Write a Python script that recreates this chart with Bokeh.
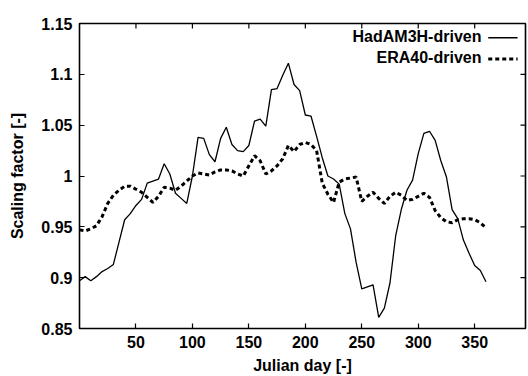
import math
from bokeh.plotting import figure
from bokeh.models import Range1d, FixedTicker, NumeralTickFormatter, Label, Arrow
from bokeh.embed import file_html
from bokeh.resources import INLINE

# ---- data ----
days = list(range(0, 365, 5))

hadam3h = [
    0.897, 0.901, 0.897, 0.901, 0.906, 0.909, 0.913, 0.935, 0.957, 0.963,
    0.971, 0.977, 0.993, 0.995, 0.997, 1.012, 1.002, 0.983, 0.978, 0.973,
    1.000, 1.038, 1.037, 1.021, 1.014, 1.037, 1.048, 1.031, 1.025, 1.024,
    1.030, 1.054, 1.056, 1.049, 1.085, 1.086, 1.099, 1.111, 1.090, 1.084,
    1.060, 1.059, 1.039, 1.018, 1.000, 0.997, 0.992, 0.963, 0.948, 0.915,
    0.889, 0.891, 0.893, 0.861, 0.870, 0.895, 0.941, 0.967, 0.986, 0.996,
    1.022, 1.042, 1.044, 1.035, 1.015, 0.999, 0.967, 0.958, 0.937, 0.924,
    0.912, 0.907, 0.896,
]

era40 = [
    0.947, 0.946, 0.948, 0.951, 0.960, 0.973, 0.981, 0.986, 0.990, 0.990,
    0.987, 0.984, 0.979, 0.974, 0.980, 0.989, 0.988, 0.986, 0.990, 0.995,
    1.000, 1.003, 1.002, 1.001, 1.004, 1.006, 1.006, 1.005, 1.002, 1.000,
    1.010, 1.020, 1.015, 1.002, 1.005, 1.010, 1.017, 1.030, 1.024, 1.031,
    1.033, 1.031, 1.025, 0.993, 0.982, 0.974, 0.994, 0.997, 0.998, 0.999,
    0.975, 0.980, 0.984, 0.978, 0.973, 0.980, 0.984, 0.981, 0.976, 0.977,
    0.980, 0.983, 0.979, 0.966, 0.959, 0.955, 0.954, 0.957, 0.958, 0.958,
    0.957, 0.954, 0.949,
]

x_ticks = [50, 100, 150, 200, 250, 300, 350]
y_ticks = [0.85, 0.9, 0.95, 1.0, 1.05, 1.1, 1.15]
series_names = ["HadAM3H-driven", "ERA40-driven"]

FONT = "Liberation Sans"
X0, X1, Y0, Y1 = 0, 395, 0.85, 1.15

p = figure(width=528, height=376, output_backend="svg", toolbar_location=None,
           x_range=Range1d(X0, X1), y_range=Range1d(Y0, Y1),
           min_border_left=79, min_border_right=3, min_border_top=23,
           min_border_bottom=42, background_fill_color="white",
           border_fill_color="white")
p.xgrid.visible = False
p.ygrid.visible = False
p.outline_line_color = "black"
p.outline_line_width = 1.6

for ax, ticks in ((p.xaxis[0], x_ticks), (p.yaxis[0], y_ticks)):
    ax.ticker = FixedTicker(ticks=ticks)
    ax.axis_line_color = None
    ax.major_tick_in = 5
    ax.major_tick_out = 0
    ax.major_tick_line_color = "black"
    ax.major_tick_line_width = 1.2
    ax.minor_tick_line_color = None
    ax.major_label_text_font = FONT
    ax.major_label_text_font_style = "bold"
    ax.major_label_text_font_size = "16px"
    ax.major_label_text_color = "black"
    ax.axis_label_text_font = FONT
    ax.axis_label_text_font_style = "bold"
    ax.axis_label_text_font_size = "16px"
    ax.axis_label_text_color = "black"
    ax.major_label_standoff = 7

p.xaxis[0].axis_label = "Julian day [-]"
p.yaxis[0].axis_label = "Scaling factor [-]"
p.xaxis[0].axis_label_standoff = 6
p.yaxis[0].axis_label_standoff = 12
p.yaxis[0].formatter = NumeralTickFormatter(format="0.[00]")

# mirrored inward ticks on the top and right frame edges
p.ray(x=x_ticks, y=[Y1] * len(x_ticks), length=5, length_units="screen",
      angle=-math.pi / 2, line_color="black", line_width=1.2)
p.ray(x=[X1] * len(y_ticks), y=y_ticks, length=5, length_units="screen",
      angle=math.pi, line_color="black", line_width=1.2)

p.line(days, hadam3h, line_color="black", line_width=1.3)
p.line(days, era40, line_color="black", line_width=3, line_dash="4 3")

# legend (text on the left, key line on the right)
lab_kw = dict(text_font=FONT, text_font_style="bold", text_font_size="16px",
              text_align="right", text_baseline="middle", text_color="black")
p.add_layout(Label(x=356, y=1.137, text=series_names[0], **lab_kw))
p.add_layout(Label(x=356, y=1.117, text=series_names[1], **lab_kw))
p.add_layout(Arrow(end=None, x_start=362, x_end=388, y_start=1.136, y_end=1.136,
                   line_color="black", line_width=1.3))
p.add_layout(Arrow(end=None, x_start=362, x_end=388, y_start=1.115, y_end=1.115,
                   line_color="black", line_width=3, line_dash="4 3"))

open("out.html", "w").write(file_html(p, INLINE))
